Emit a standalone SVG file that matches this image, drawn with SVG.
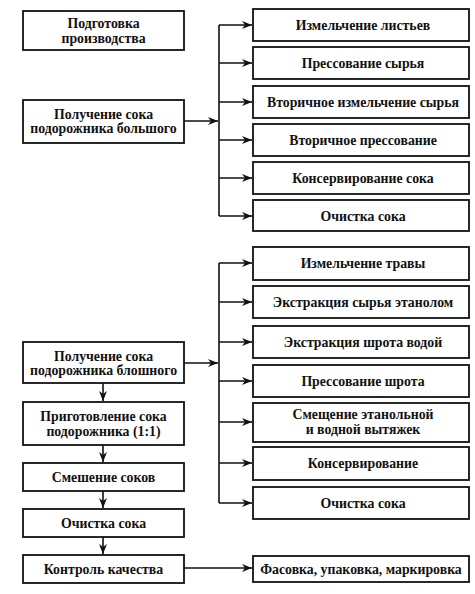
<svg xmlns="http://www.w3.org/2000/svg" width="475" height="594" viewBox="0 0 475 594">
<defs>
<marker id="ah" viewBox="0 0 10 8" refX="10" refY="4" markerWidth="10" markerHeight="8" markerUnits="userSpaceOnUse" orient="auto">
<path d="M0,0 L10,4 L0,8 L3,4 Z" fill="#111"/>
</marker>
<style>
rect{fill:#fff;stroke:#111;stroke-width:1.8}
text{font-family:"Liberation Serif","DejaVu Serif",serif;font-weight:bold;font-size:13.8px;fill:#111;text-anchor:middle}
.c path,.c line{stroke:#111;stroke-width:1.6;fill:none}
</style>
</defs>
<rect x="0" y="0" width="475" height="594" style="fill:#fff;stroke:none"/>
<g class="c" id="connectors">
<line x1="184" y1="121" x2="218" y2="121" marker-end="url(#ah)"/>
<line x1="219" y1="25" x2="219" y2="216"/>
<line x1="219" y1="25" x2="252" y2="25" marker-end="url(#ah)"/>
<line x1="219" y1="63" x2="252" y2="63" marker-end="url(#ah)"/>
<line x1="219" y1="102" x2="252" y2="102" marker-end="url(#ah)"/>
<line x1="219" y1="140" x2="252" y2="140" marker-end="url(#ah)"/>
<line x1="219" y1="178" x2="252" y2="178" marker-end="url(#ah)"/>
<line x1="219" y1="216" x2="252" y2="216" marker-end="url(#ah)"/>
<line x1="184" y1="363" x2="218" y2="363" marker-end="url(#ah)"/>
<line x1="219" y1="263" x2="219" y2="503"/>
<line x1="219" y1="263" x2="252" y2="263" marker-end="url(#ah)"/>
<line x1="219" y1="302" x2="252" y2="302" marker-end="url(#ah)"/>
<line x1="219" y1="342" x2="252" y2="342" marker-end="url(#ah)"/>
<line x1="219" y1="381" x2="252" y2="381" marker-end="url(#ah)"/>
<line x1="219" y1="422" x2="252" y2="422" marker-end="url(#ah)"/>
<line x1="219" y1="463" x2="252" y2="463" marker-end="url(#ah)"/>
<line x1="219" y1="503" x2="252" y2="503" marker-end="url(#ah)"/>
<line x1="103" y1="383" x2="103" y2="401" marker-end="url(#ah)"/>
<line x1="103" y1="445" x2="103" y2="462" marker-end="url(#ah)"/>
<line x1="103" y1="491" x2="103" y2="508" marker-end="url(#ah)"/>
<line x1="103" y1="537" x2="103" y2="554" marker-end="url(#ah)"/>
<line x1="184" y1="568" x2="252" y2="568" marker-end="url(#ah)"/>
</g>
<g id="n_prep"><rect x="23" y="11" width="161" height="39"/><text x="103.5" y="28">Подготовка</text><text x="103.5" y="43">производства</text></g>
<g id="n_big"><rect x="23" y="100" width="161" height="43"/><text x="103.5" y="119">Получение сока</text><text x="103.5" y="133">подорожника большого</text></g>
<g id="r1"><rect x="253" y="9" width="216" height="32"/><text x="363" y="30">Измельчение листьев</text></g>
<g id="r2"><rect x="253" y="47" width="216" height="32"/><text x="363" y="68">Прессование сырья</text></g>
<g id="r3"><rect x="253" y="86" width="216" height="32"/><text x="363" y="107">Вторичное измельчение сырья</text></g>
<g id="r4"><rect x="253" y="124" width="216" height="32"/><text x="363" y="145">Вторичное прессование</text></g>
<g id="r5"><rect x="253" y="162" width="216" height="32"/><text x="363" y="183">Консервирование сока</text></g>
<g id="r6"><rect x="253" y="200" width="216" height="31"/><text x="363" y="221">Очистка сока</text></g>
<g id="n_flea"><rect x="23" y="342" width="161" height="41"/><text x="103.5" y="361">Получение сока</text><text x="103.5" y="375">подорожника  блошного</text></g>
<g id="n_mix11"><rect x="23" y="402" width="161" height="43"/><text x="103.5" y="421">Приготовление сока</text><text x="103.5" y="436">подорожника (1:1)</text></g>
<g id="n_mix"><rect x="23" y="463" width="161" height="28"/><text x="103.5" y="482">Смешение соков</text></g>
<g id="n_clean"><rect x="23" y="509" width="161" height="28"/><text x="103.5" y="528">Очистка сока</text></g>
<g id="n_qc"><rect x="23" y="555" width="161" height="28"/><text x="103.5" y="574">Контроль качества</text></g>
<g id="s1"><rect x="253" y="247" width="216" height="33"/><text x="363" y="268">Измельчение травы</text></g>
<g id="s2"><rect x="253" y="286" width="216" height="32"/><text x="363" y="307">Экстракция сырья этанолом</text></g>
<g id="s3"><rect x="253" y="326" width="216" height="32"/><text x="363" y="347">Экстракция шрота водой</text></g>
<g id="s4"><rect x="253" y="365" width="216" height="32"/><text x="363" y="386">Прессование шрота</text></g>
<g id="s5"><rect x="253" y="403" width="216" height="39"/><text x="363" y="419">Смещение этанольной</text><text x="363" y="434">и водной вытяжек</text></g>
<g id="s6"><rect x="253" y="447" width="216" height="33"/><text x="363" y="468">Консервирование</text></g>
<g id="s7"><rect x="253" y="487" width="216" height="32"/><text x="363" y="508">Очистка сока</text></g>
<g id="n_pack"><rect x="253" y="556" width="216" height="26"/><text x="361" y="574">Фасовка, упаковка, маркировка</text></g>
</svg>
